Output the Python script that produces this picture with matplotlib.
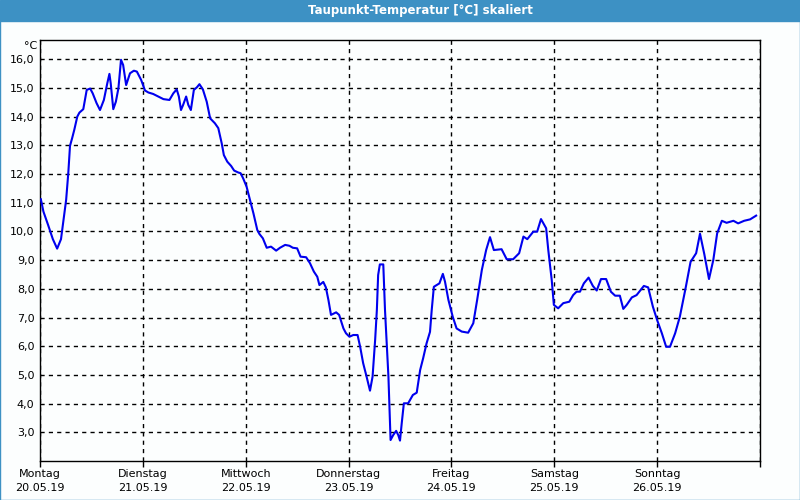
import matplotlib.pyplot as plt
import numpy as np
from matplotlib.ticker import FuncFormatter
from matplotlib.patches import Rectangle

# hours since Monday 00:00 and dew point in degC
hours = [0.2, 0.8, 1.9, 3.0, 4.0, 4.9, 5.4, 6.1, 6.4, 6.6, 7.0, 7.5, 8.0, 8.7, 9.2,
         10.1, 10.9, 11.7, 12.3, 13.2, 14.0, 14.9, 15.7, 16.2, 16.5, 17.1, 17.7, 18.3,
         18.9, 19.4, 20.1, 21.0, 21.9, 22.6, 23.6, 24.5, 25.3, 26.4, 27.6, 28.8, 30.2,
         31.1, 31.9, 32.4, 32.9, 33.4, 34.1, 34.6, 35.2, 35.9, 36.6, 37.2, 38.0, 38.9,
         39.7, 40.8, 41.6, 42.4, 42.9, 43.7, 44.6, 45.3, 46.3, 46.8, 47.4, 48.2, 49.0,
         49.8, 50.7, 51.2, 52.0, 52.9, 53.9, 55.1, 56.0, 57.2, 58.2, 59.0, 60.0, 60.8,
         62.1, 63.0, 63.9, 64.7, 65.2, 66.1, 66.7, 67.3, 67.9, 69.1, 69.8, 70.8, 71.4,
         72.2, 73.1, 74.1, 74.7, 75.4, 76.2, 77.0, 77.6, 78.2, 78.6, 78.9, 79.3, 80.1,
         80.5, 81.3, 81.8, 82.4, 83.1, 83.6, 84.0, 84.4, 84.9, 85.9, 87.0, 87.9, 88.7,
         89.4, 90.2, 91.0, 91.4, 91.9, 93.2, 94.0, 94.5, 95.3, 96.3, 97.2, 98.4, 99.9,
         101.1, 102.0, 103.1, 104.1, 105.0, 105.9, 107.7, 108.9, 110.4, 111.8, 112.8,
         113.7, 115.1, 116.0, 116.9, 118.1, 118.6, 119.4, 119.9, 120.9, 122.1, 123.5,
         124.4, 125.2, 126.0, 126.9, 128.0, 129.0, 129.9, 130.9, 132.1, 133.2, 134.2,
         135.3, 136.1, 136.9, 138.1, 139.2, 140.9, 141.9, 143.0, 144.0, 145.1, 146.1,
         147.0, 148.2, 149.3, 150.7, 151.8, 153.1, 154.0, 155.0, 156.1, 157.1, 158.0,
         159.1, 160.2, 161.8, 162.9, 164.3, 165.7, 167.1]
dewpoint = [11.12, 10.69, 10.22, 9.73, 9.4, 9.73, 10.3, 11.1, 11.68, 12.03, 12.98, 13.25,
            13.54, 14.0, 14.14, 14.26, 14.93, 14.98, 14.81, 14.47, 14.23, 14.58, 15.16,
            15.49, 15.16, 14.26, 14.52, 14.99, 15.98, 15.8, 15.1, 15.51, 15.6, 15.57,
            15.28, 14.91, 14.84, 14.79, 14.7, 14.61, 14.58, 14.81, 14.95, 14.7, 14.23,
            14.41, 14.7, 14.41, 14.23, 14.93, 15.02, 15.13, 14.95, 14.52, 13.94, 13.77,
            13.6, 13.07, 12.66, 12.43, 12.28, 12.12, 12.05, 12.03, 11.85, 11.56, 11.1,
            10.63, 10.05, 9.91, 9.76, 9.43, 9.47, 9.33, 9.43, 9.53, 9.5, 9.43, 9.41,
            9.12, 9.1, 8.89, 8.6, 8.42, 8.13, 8.24, 8.05, 7.61, 7.09, 7.18, 7.09, 6.62,
            6.45, 6.33, 6.39, 6.39, 5.98, 5.41, 4.94, 4.45, 4.94, 6.22, 7.26, 8.48, 8.85,
            8.85, 7.26, 4.94, 2.73, 2.9, 3.05, 2.9, 2.71, 3.31, 4.01, 4.01, 4.3, 4.38,
            5.17, 5.58, 6.1, 6.5, 7.26, 8.07, 8.19, 8.52, 8.25, 7.61, 7.03, 6.62, 6.51,
            6.47, 6.8, 7.61, 8.66, 9.35, 9.8, 9.35, 9.38, 9.03, 9.03, 9.24, 9.82, 9.73,
            9.99, 9.99, 10.43, 10.11, 9.35, 8.31, 7.44, 7.32, 7.5, 7.55, 7.78, 7.9, 7.9,
            8.19, 8.39, 8.1, 7.94, 8.34, 8.34, 7.9, 7.76, 7.76, 7.3, 7.44, 7.7, 7.78,
            8.1, 8.05, 7.38, 6.91, 6.45, 5.98, 5.98, 6.45, 7.03, 8.07, 8.94, 9.24, 9.92,
            9.21, 8.34, 9.0, 9.93, 10.37, 10.3, 10.37, 10.28, 10.37, 10.42, 10.55]

days = ["Montag", "Dienstag", "Mittwoch", "Donnerstag", "Freitag", "Samstag", "Sonntag"]
dates = ["20.05.19", "21.05.19", "22.05.19", "23.05.19", "24.05.19", "25.05.19", "26.05.19"]
y_ticks = np.arange(3, 17, 1)

bg = "#fcfefe"
bar_blue = "#3d91c4"

fig = plt.figure(figsize=(8, 5), dpi=100, facecolor=bg)

# title bar and frame
fig.patches.append(Rectangle((0, 1 - 21 / 500), 1, 21 / 500, transform=fig.transFigure,
                             color=bar_blue, zorder=0))
fig.patches.append(Rectangle((0.0006, 0.001), 0.9988, 0.998, transform=fig.transFigure,
                             fill=False, edgecolor=bar_blue, linewidth=1.0, zorder=0))
fig.text(0.525, 1 - 10.5 / 500, "Taupunkt-Temperatur [°C] skaliert", color="white",
         ha="center", va="center", fontsize=8.5, fontweight="bold")

ax = fig.add_axes([0.05, 1 - 460.7 / 500, 0.90, (460.7 - 40) / 500])
ax.set_facecolor(bg)
ax.plot(hours, dewpoint, color="#0000ee", linewidth=1.5, zorder=3)

ax.set_xlim(0, 168)
ax.set_ylim(2.01, 16.67)

ax.set_yticks(y_ticks)
ax.yaxis.set_major_formatter(FuncFormatter(lambda v, p: f"{v:.1f}".replace(".", ",")))
ax.tick_params(axis="y", length=0, pad=4, labelsize=8)

ax.set_xticks(np.arange(0, 169, 24))
ax.set_xticklabels([f"{d}\n{t}" for d, t in zip(days, dates)] + [""],
                   fontsize=8, linespacing=1.45)
ax.tick_params(axis="x", length=4, width=1, direction="out", pad=2)

ax.grid(True, color="black", linestyle=(0, (3, 3)), linewidth=1)
for s in ax.spines.values():
    s.set_color("black")
    s.set_linewidth(1)

ax.text(-0.004, 1.0 - 6 / 420, "°C", transform=ax.transAxes, ha="right", va="center",
        fontsize=8)

fig.savefig("out.png", dpi=100, facecolor=bg)
